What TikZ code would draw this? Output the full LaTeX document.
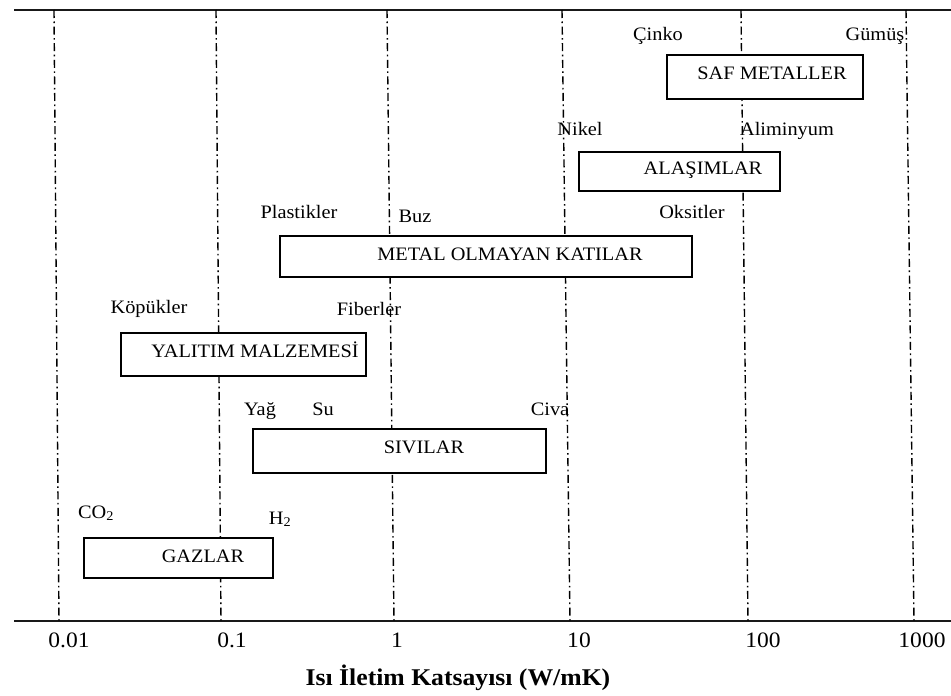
\documentclass[tikz,border=0pt]{standalone}
\usepackage{fontspec}
\setmainfont[FakeStretch=1.07]{Liberation Serif}
\begin{document}
\begin{tikzpicture}[x=1pt,y=-1pt,
  grid/.style={line width=1.4pt, dash pattern=on 8pt off 3.5pt on 1.6pt off 3.5pt, black},
  cat/.style={draw, line width=1.2pt, fill=white, inner sep=0pt},
  lbl/.style={font=\fontsize{19}{22}\selectfont, inner sep=0pt, anchor=base},
  tick/.style={font=\fontsize{22}{25}\selectfont, inner sep=0pt, anchor=base}]
\useasboundingbox (0,0) rectangle (951,696);
% frame lines
\coordinate (tl) at (14,10); \coordinate (tr) at (951,10);
\coordinate (bl) at (14,621); \coordinate (br) at (951,621);
\draw[line width=1.5pt, black!90] (tl) -- (tr);
\draw[line width=1.5pt, black!90] (bl) -- (br);
% vertical grid lines (slightly slanted as in the scan)
\foreach \xt/\xb/\n in {54/59/a,216/221/b,387/394/c,562/570/d,741/748/e,906/914/f}{
  \coordinate (t\n) at (\xt,10); \coordinate (b\n) at (\xb,621);
  \draw[grid] (t\n) -- (b\n);
}
% tick labels
\node[tick] (l1) at (69,647) {0.01};
\node[tick] (l2) at (232,647) {0.1};
\node[tick] (l3) at (397,647) {1};
\node[tick] (l4) at (579,647) {10};
\node[tick] (l5) at (763,647) {100};
\node[tick] (l6) at (922,647) {1000};
\node[font=\bfseries\fontsize{24}{27}\selectfont, inner sep=0pt, anchor=base] (axl) at (458,685) {Isı İletim Katsayısı (W/mK)};
% boxes
\node[cat, minimum width=196pt, minimum height=44pt] (saf) at (765,77) {};
\node[lbl] (saft) at (772,79.5) {SAF METALLER};
\node[cat, minimum width=201pt, minimum height=39pt] (ala) at (679.5,171.5) {};
\node[lbl] (alat) at (703,174) {ALAŞIMLAR};
\node[cat, minimum width=412pt, minimum height=41pt] (met) at (486,256.5) {};
\node[lbl] (mett) at (510,260) {METAL OLMAYAN KATILAR};
\node[cat, minimum width=245pt, minimum height=43pt] (yal) at (243.5,354.5) {};
\node[lbl] (yalt) at (255,357) {YALITIM MALZEMESİ};
\node[cat, minimum width=293pt, minimum height=44pt] (siv) at (399.5,451) {};
\node[lbl] (sivt) at (424,453) {SIVILAR};
\node[cat, minimum width=189pt, minimum height=40pt] (gaz) at (178.5,558) {};
\node[lbl] (gazt) at (203,562) {GAZLAR};
% material labels
\node[lbl] (cinko) at (658,40) {Çinko};
\node[lbl] (gumus) at (875,40) {Gümüş};
\node[lbl] (nikel) at (580,135) {Nikel};
\node[lbl] (alim) at (787,135) {Aliminyum};
\node[lbl] (plas) at (299,218) {Plastikler};
\node[lbl] (buz) at (415,222) {Buz};
\node[lbl] (oks) at (692,218) {Oksitler};
\node[lbl] (kop) at (149,313) {Köpükler};
\node[lbl] (fib) at (369,315) {Fiberler};
\node[lbl] (yag) at (260,415) {Yağ};
\node[lbl] (su) at (323,415) {Su};
\node[lbl] (civa) at (550,415) {Civa};
\node[lbl] (co2) at (96,518) {CO\textsubscript{2}};
\node[lbl] (h2) at (280,524) {H\textsubscript{2}};
\end{tikzpicture}
\end{document}
